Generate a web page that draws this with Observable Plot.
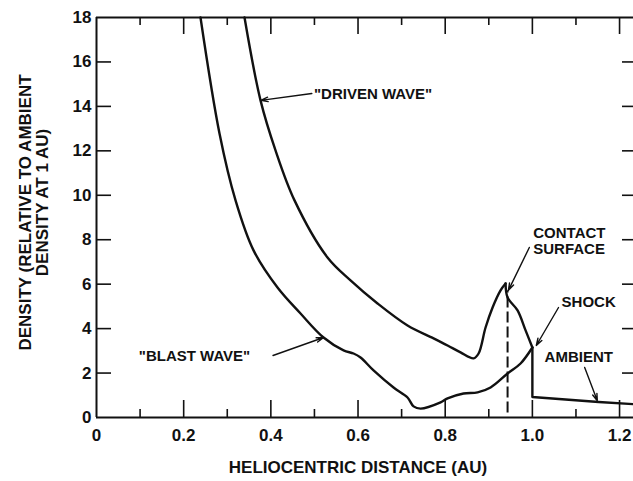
<!DOCTYPE html>
<html>
<head>
<meta charset="utf-8">
<script src="https://cdn.jsdelivr.net/npm/d3@7"></script>
<script src="https://cdn.jsdelivr.net/npm/@observablehq/plot@0.6"></script>
<style>
  html, body { margin: 0; padding: 0; background: #fff; }
  svg { display: block; }
</style>
</head>
<body>
<div id="chart"></div>
<script>
// ---- data ----
const blastX = [0.2386, 0.2822, 0.3190, 0.3603, 0.4153, 0.4681, 0.5209, 0.5668, 0.5897, 0.6058, 0.6356, 0.6815, 0.7136, 0.7274, 0.7435, 0.7894, 0.8054, 0.8421, 0.8743, 0.9041, 0.9431, 0.9729, 1.0];
const blastY = [18.0, 12.78, 9.77, 7.52, 5.85, 4.68, 3.60, 3.02, 2.88, 2.70, 2.12, 1.35, 0.90, 0.50, 0.40, 0.68, 0.86, 1.08, 1.13, 1.35, 1.98, 2.43, 3.15];

// driven wave, up to the density peak at the contact surface
const drivenX = [0.3396, 0.3763, 0.4107, 0.4543, 0.5300, 0.5828, 0.6448, 0.7136, 0.7733, 0.8054, 0.8352, 0.8651, 0.8766, 0.8926, 0.9087, 0.9270, 0.9385];
const drivenY = [18.0, 14.27, 12.02, 9.77, 7.20, 6.17, 5.13, 4.14, 3.56, 3.24, 2.93, 2.66, 2.88, 4.05, 4.95, 5.72, 6.03];
// driven wave, from the peak to the shock
const sheathX = [0.9385, 0.9431, 0.9660, 0.9844, 1.0];
const sheathY = [6.03, 5.40, 4.82, 3.92, 3.15];

const ambientX = [1.0, 1.0, 1.152, 1.232];
const ambientY = [3.15, 0.92, 0.70, 0.60];

const contactX = 0.9431;
const contactTop = 5.7;

const xMajor = [0, 0.2, 0.4, 0.6, 0.8, 1.0, 1.2];
const xMajorLabels = ["0", "0.2", "0.4", "0.6", "0.8", "1.0", "1.2"];
const xMinor = [0.1, 0.3, 0.5, 0.7, 0.9, 1.1];
const yTicks = [0, 2, 4, 6, 8, 10, 12, 14, 16, 18];
const yInnerTicks = [2, 4, 6, 8, 10, 12, 14, 16];

const annotText = ["\"DRIVEN WAVE\"", "\"BLAST WAVE\"", "CONTACT", "SURFACE", "SHOCK", "AMBIENT"];
const annotX = [0.499, 0.097, 1.002, 1.002, 1.067, 1.028];
const annotY = [14.54, 2.75, 8.28, 7.56, 5.18, 2.70];

const arrowX1 = [0.494, 0.405, 0.993, 1.060, 1.120];
const arrowY1 = [14.58, 2.79, 7.65, 4.95, 2.25];
const arrowX2 = [0.377, 0.521, 0.945, 1.009, 1.149];
const arrowY2 = [14.27, 3.60, 5.72, 3.24, 0.75];

const xLabel = "HELIOCENTRIC DISTANCE (AU)";
const yLabel1 = "DENSITY (RELATIVE TO AMBIENT";
const yLabel2 = "DENSITY AT 1 AU)";

// ---- tables ----
const blast = blastX.map((x, i) => ({x, y: blastY[i]}));
const driven = drivenX.map((x, i) => ({x, y: drivenY[i]}));
const sheath = sheathX.map((x, i) => ({x, y: sheathY[i]}));
const ambient = ambientX.map((x, i) => ({x, y: ambientY[i]}));
const annots = annotText.map((t, i) => ({text: t, x: annotX[i], y: annotY[i]}));
const arrows = arrowX1.map((x1, i) => ({x1, y1: arrowY1[i], x2: arrowX2[i], y2: arrowY2[i]}));

const font = "'Liberation Sans', Arial, sans-serif";
const ink = "#111";

const chart = Plot.plot({
  width: 633,
  height: 481,
  marginLeft: 96,
  marginRight: 0,
  marginTop: 17,
  marginBottom: 64,
  style: {fontFamily: font, background: "#fff", color: ink, overflow: "visible"},
  x: {domain: [0, 1.232]},
  y: {domain: [0, 18]},
  marks: [
    // frame lines
    Plot.ruleX([0], {y1: 0, y2: 18, stroke: ink, strokeWidth: 2}),
    Plot.ruleY([0, 18], {stroke: ink, strokeWidth: 2}),
    // inward ticks
    Plot.ruleY(yInnerTicks, {x1: 0, x2: 0, insetRight: -15, stroke: ink, strokeWidth: 1.6}),
    Plot.ruleY(yInnerTicks, {x1: 1.232, x2: 1.232, insetLeft: -11, stroke: ink, strokeWidth: 1.6}),
    Plot.ruleX(xMajor.slice(1), {y1: 0, y2: 0, insetTop: -17, stroke: ink, strokeWidth: 1.6}),
    Plot.ruleX(xMinor, {y1: 0, y2: 0, insetTop: -8, stroke: ink, strokeWidth: 1.6}),
    Plot.ruleX(xMajor.slice(1), {y1: 18, y2: 18, insetBottom: -17, stroke: ink, strokeWidth: 1.6}),
    Plot.ruleX(xMinor, {y1: 18, y2: 18, insetBottom: -8, stroke: ink, strokeWidth: 1.6}),
    // axes labels
    Plot.axisX({ticks: xMajor, tickFormat: d => xMajorLabels[xMajor.indexOf(d)], tickSize: 0, tickPadding: 11, fontSize: 17, fontWeight: "bold", label: null}),
    Plot.axisY({ticks: yTicks, tickSize: 0, tickPadding: 5, fontSize: 17, fontWeight: "bold", label: null}),
    Plot.text([xLabel], {frameAnchor: "bottom", dx: -7, dy: 55, fontSize: 17, fontWeight: "bold", fill: ink}),
    Plot.text([yLabel1], {frameAnchor: "left", textAnchor: "middle", rotate: -90, dx: -71, dy: -5, fontSize: 17, fontWeight: "bold", fill: ink}),
    Plot.text([yLabel2], {frameAnchor: "left", textAnchor: "middle", rotate: -90, dx: -54, dy: -15, fontSize: 17, fontWeight: "bold", fill: ink}),
    // curves
    Plot.line(blast, {x: "x", y: "y", curve: "catmull-rom", stroke: ink, strokeWidth: 2.4}),
    Plot.line(driven, {x: "x", y: "y", curve: "catmull-rom", stroke: ink, strokeWidth: 2.4}),
    Plot.line(sheath, {x: "x", y: "y", curve: "catmull-rom", stroke: ink, strokeWidth: 2.4}),
    Plot.line(ambient, {x: "x", y: "y", stroke: ink, strokeWidth: 2.4}),
    Plot.ruleX([contactX], {y1: 0.2, y2: contactTop, stroke: ink, strokeWidth: 2, strokeDasharray: "11,4"}),
    // annotations
    Plot.arrow(arrows, {x1: "x1", y1: "y1", x2: "x2", y2: "y2", stroke: ink, strokeWidth: 1.4, headLength: 8, headAngle: 35}),
    Plot.text(annots, {x: "x", y: "y", text: "text", textAnchor: "start", fontSize: 15, fontWeight: "bold", fill: ink})
  ]
});
document.getElementById("chart").appendChild(chart);
</script>
</body>
</html>
